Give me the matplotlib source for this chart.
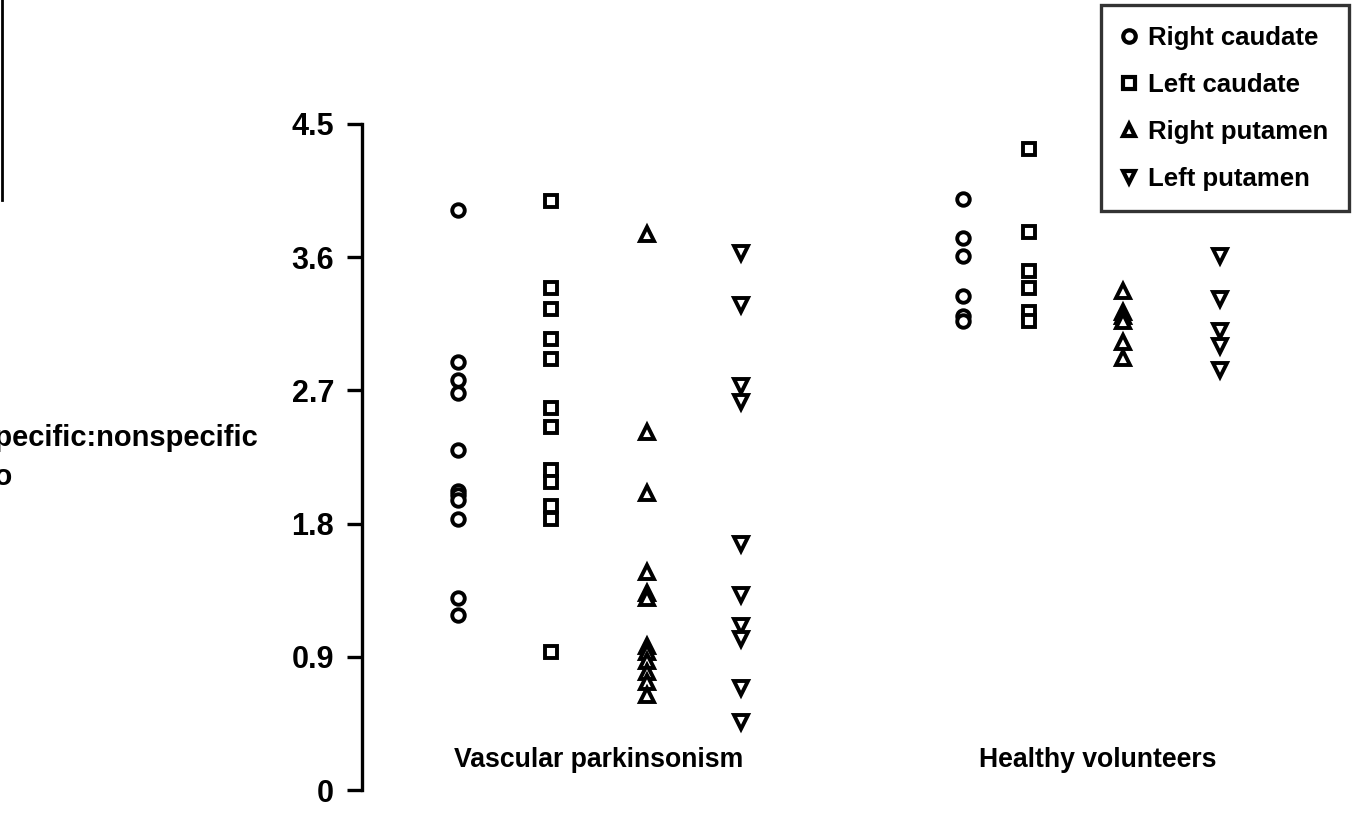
import matplotlib
matplotlib.use("Agg")
import matplotlib.pyplot as plt
from matplotlib.lines import Line2D

plt.rcParams['font.family'] = ['Liberation Sans', 'DejaVu Sans']
plt.rcParams['font.weight'] = 'bold'

# ---------------- data ----------------
groups = ["Vascular parkinsonism", "Healthy volunteers"]
regions = ["Right caudate", "Left caudate", "Right putamen", "Left putamen"]

vp_right_caudate = [3.92, 2.89, 2.77, 2.68, 2.30, 2.02, 1.99, 1.96, 1.83, 1.30, 1.18]
vp_left_caudate = [3.98, 3.39, 3.25, 3.05, 2.91, 2.58, 2.45, 2.16, 2.08, 1.92, 1.83, 0.93]
vp_right_putamen = [3.76, 2.42, 2.01, 1.47, 1.33, 1.30, 0.97, 0.93, 0.87, 0.80, 0.73, 0.64]
vp_left_putamen = [3.63, 3.28, 2.73, 2.62, 1.66, 1.32, 1.11, 1.02, 0.69, 0.46]

hv_right_caudate = [3.99, 3.73, 3.61, 3.34, 3.20, 3.17]
hv_left_caudate = [4.33, 3.77, 3.51, 3.39, 3.23, 3.17]
hv_right_putamen = [3.37, 3.23, 3.20, 3.17, 3.03, 2.92]
hv_left_putamen = [3.61, 3.32, 3.10, 3.00, 2.84]

yticks = [0, 0.9, 1.8, 2.7, 3.6, 4.5]
ytick_labels = ["0", "0.9", "1.8", "2.7", "3.6", "4.5"]

# ---------------- layout / style ----------------
series = {
    groups[0]: [vp_right_caudate, vp_left_caudate, vp_right_putamen, vp_left_putamen],
    groups[1]: [hv_right_caudate, hv_left_caudate, hv_right_putamen, hv_left_putamen],
}
x_pos = {
    groups[0]: [0.102, 0.201, 0.304, 0.404],
    groups[1]: [0.641, 0.711, 0.811, 0.915],
}
group_label_x = [0.252, 0.784]
markers = ['o', 's', '^', 'v']
msizes = [9, 9, 10, 10]

W, H = 1359, 814
fig = plt.figure(figsize=(W / 100, H / 100), dpi=100)
y0_px, y45_px = 790, 124
ax = fig.add_axes([362 / W, (H - y0_px) / H, (1300 - 362) / W, (y0_px - y45_px) / H])
ax.set_xlim(0, 1)
ax.set_ylim(0, 4.5)

for g in groups:
    for vals, xp, m, ms in zip(series[g], x_pos[g], markers, msizes):
        ax.plot([xp] * len(vals), vals, ls='none', marker=m, ms=ms,
                mfc='white', mec='black', mew=2.8, clip_on=False)

for s in ['top', 'right', 'bottom']:
    ax.spines[s].set_visible(False)
ax.spines['left'].set_linewidth(2.4)
ax.set_xticks([])
ax.set_yticks(yticks)
ax.set_yticklabels(ytick_labels)
ax.tick_params(axis='y', direction='out', length=11, width=2.4, pad=9, labelsize=22)
for lbl in ax.get_yticklabels():
    lbl.set_fontweight('bold')

for g, gx in zip(groups, group_label_x):
    ax.text(gx, 0.20, g, ha='center', va='center', fontsize=19.2, fontweight='bold')

# y-axis title (cropped at the left edge as in the reference)
fig.text(258 / W, 1 - 446 / H, "Specific:nonspecific", ha='right', va='baseline',
         fontsize=21, fontweight='bold')
fig.text(12 / W, 1 - 485 / H, "ratio", ha='right', va='baseline',
         fontsize=21, fontweight='bold')

# stray border line at the left edge
fig.add_artist(Line2D([1.5 / W, 1.5 / W], [1, 1 - 200 / H], color='black', lw=2,
                      transform=fig.transFigure))

handles = [Line2D([], [], ls='none', marker=m, ms=9, mfc='white', mec='black', mew=3)
           for m in markers]
leg = fig.legend(handles, regions, loc='upper right', bbox_to_anchor=(1349 / W, 1 - 5 / H),
                 bbox_transform=fig.transFigure, borderaxespad=0, frameon=True,
                 fancybox=False, edgecolor='black', handlelength=0.6,
                 handletextpad=0.45, labelspacing=0.9, borderpad=0.8, numpoints=1,
                 prop={'weight': 'bold', 'size': 18.5})
leg.get_frame().set_linewidth(2.4)

fig.savefig("out.png", dpi=100, facecolor='white')
